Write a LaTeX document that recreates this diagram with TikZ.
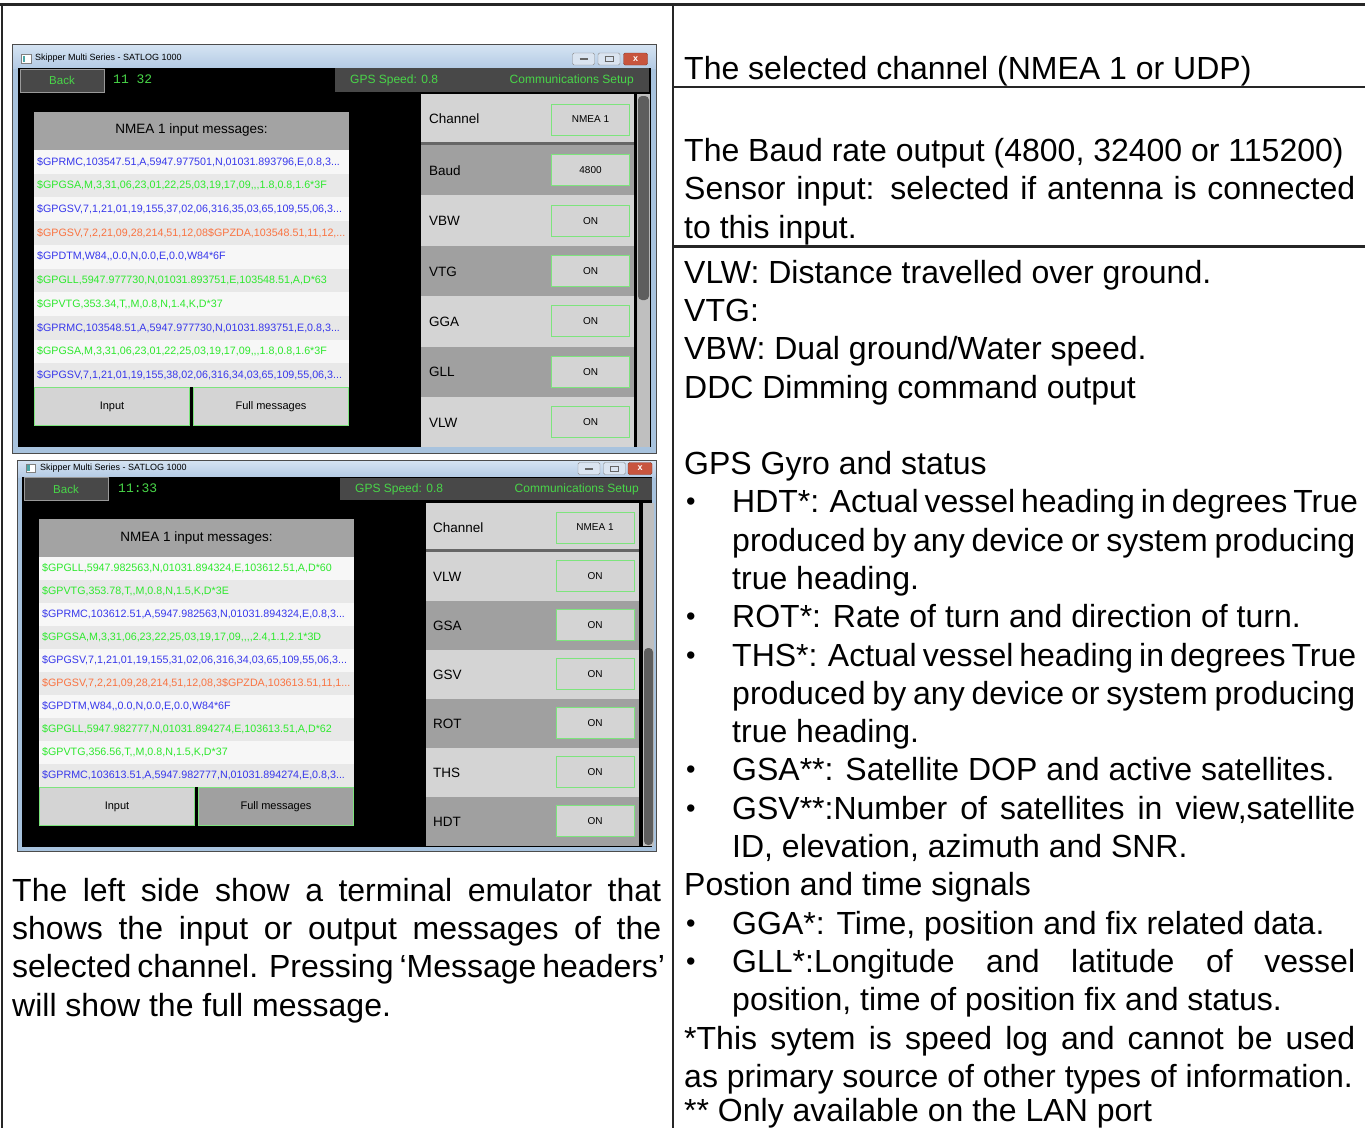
\documentclass[tikz,border=0pt]{standalone}
\usepackage{fontspec}
\setmainfont{Liberation Sans}
\setmonofont{Liberation Mono}
\newfontfamily\msgfont{Liberation Sans}
\definecolor{uigreen}{RGB}{72,214,72}
\definecolor{msgblue}{RGB}{55,55,235}
\definecolor{msggreen}{RGB}{45,232,45}
\definecolor{msgorange}{RGB}{250,115,65}
\definecolor{rowwhite}{RGB}{247,247,247}
\definecolor{rowgrey}{RGB}{232,232,232}
\definecolor{panlight}{RGB}{212,212,212}
\definecolor{pandark}{RGB}{160,160,160}
\definecolor{headgrey}{RGB}{163,163,163}
\definecolor{bargrey}{RGB}{72,72,72}
\definecolor{wintop}{RGB}{214,228,243}
\definecolor{winbot}{RGB}{180,203,228}
\definecolor{winedge}{RGB}{168,195,222}
\definecolor{boxgreen}{RGB}{125,228,125}
\definecolor{closered}{RGB}{200,85,62}
\definecolor{btnfill}{RGB}{218,228,240}
\newcommand{\uifs}[1]{\fontsize{#1}{#1}\selectfont}
\newcommand{\jl}[2]{\makebox[#1][s]{#2}}
\newcommand{\bul}{\raisebox{2pt}{\uifs{27}•}}
\tikzset{
  body/.style    = {anchor=base west, inner sep=0pt, font=\uifs{32}},
  ttl/.style     = {anchor=west, inner sep=0pt, font=\uifs{9}},
  winbtn/.style  = {draw=black!45, fill=btnfill, rounded corners=1.5pt,
                    minimum width=22pt, minimum height=12pt, inner sep=0pt},
  backbtn/.style = {draw=black!40, line width=1pt, fill=bargrey, minimum width=84pt,
                    minimum height=23pt, inner sep=0pt, text=uigreen, font=\uifs{11.5}},
  clock/.style   = {anchor=west, inner sep=0pt, text=uigreen, font=\ttfamily\uifs{13}},
  bartxt/.style  = {inner sep=0pt, text=uigreen, font=\uifs{12}},
  msghead/.style = {fill=headgrey, minimum width=315pt, minimum height=38pt,
                    inner sep=0pt, font=\uifs{13.5}},
  msg/.style     = {anchor=west, inner sep=0pt, font=\msgfont\uifs{10.7}},
  btn/.style     = {draw=boxgreen, line width=1pt, fill=panlight, minimum width=155pt,
                    minimum height=38pt, inner sep=0pt, font=\uifs{11}},
  plabel/.style  = {anchor=west, inner sep=0pt, font=\uifs{13.5}},
  pval/.style    = {draw=boxgreen, line width=1pt, fill=panlight, minimum width=78pt,
                    minimum height=31pt, inner sep=0pt, font=\uifs{10}},
}
\begin{document}
\begin{tikzpicture}[x=1pt,y=-1pt]
\useasboundingbox (0,0) rectangle (1365,1128);
\fill[white] (0,0) rectangle (1365,1128);
% table rules
\draw[line width=3pt, black!85] (0,4) -- (1365,4);
\draw[line width=2.5pt, black!85] (2,4) -- (2,1128);
\draw[line width=2pt, black!85] (673,4) -- (673,1128);
\draw[line width=2.5pt, black!85] (673,87) -- (1365,87);
\draw[line width=2.5pt, black!85] (673,246.5) -- (1365,246.5);

% first screen: channel NMEA 1, baud and first sentences
\fill[winedge] (12,44) rectangle (656,453);
\shade[top color=wintop, bottom color=winbot] (12,44) rectangle (656,68);
\draw[black!70] (12,44) rectangle (656,453);
\fill[black] (18,68) rectangle (651,447);
\draw[black!50, fill=white] (21,54) rectangle (31,63);
\fill[teal!70] (22.5,55.5) rectangle (25,61.5);
\node[ttl] (title1) at (35,58.5) {Skipper Multi Series - SATLOG 1000};
\node[winbtn] (min1) at (583.5,59) {\textcolor{black!60}{\rule[-2pt]{8pt}{2pt}}};
\node[winbtn] (max1) at (609,59) {\textcolor{black!60}{\setlength\fboxsep{0pt}\setlength\fboxrule{1pt}\fbox{\rule{7pt}{0pt}\rule{0pt}{4pt}}}};
\node[winbtn, fill=closered, draw=closered!70!black, minimum width=24pt] (cls1) at (635.5,59) {\textcolor{white}{\bfseries\uifs{9}x}};
\node[backbtn] (back1) at (62,80.5) {Back};
\node[clock] (clock1) at (113,79.5) {11 32};
\fill[bargrey] (335,68) rectangle (649,92);
\node[bartxt, anchor=west] (gps1) at (350,80.5) {GPS Speed: 0.8};
\node[bartxt, anchor=east] (comm1) at (634,80.5) {Communications Setup};
\node[msghead] (head1) at (191.5,130.5) {NMEA 1 input messages:};
\foreach \i in {0,2,4,6,8} \fill[rowwhite] (34,150+\i*23.7) rectangle +(315,23.7);
\foreach \i in {1,3,5,7,9} \fill[rowgrey] (34,150+\i*23.7) rectangle +(315,23.7);
\begin{scope}
\clip (34,150) rectangle (347,387);
\foreach \txt/\col [count=\i from 0] in {
  {\$GPRMC,103547.51,A,5947.977501,N,01031.893796,E,0.8,3...}/msgblue,
  {\$GPGSA,M,3,31,06,23,01,22,25,03,19,17,09,,,1.8,0.8,1.6*3F}/msggreen,
  {\$GPGSV,7,1,21,01,19,155,37,02,06,316,35,03,65,109,55,06,3...}/msgblue,
  {\$GPGSV,7,2,21,09,28,214,51,12,08\$GPZDA,103548.51,11,12,...}/msgorange,
  {\$GPDTM,W84,,0.0,N,0.0,E,0.0,W84*6F}/msgblue,
  {\$GPGLL,5947.977730,N,01031.893751,E,103548.51,A,D*63}/msggreen,
  {\$GPVTG,353.34,T,,M,0.8,N,1.4,K,D*37}/msggreen,
  {\$GPRMC,103548.51,A,5947.977730,N,01031.893751,E,0.8,3...}/msgblue,
  {\$GPGSA,M,3,31,06,23,01,22,25,03,19,17,09,,,1.8,0.8,1.6*3F}/msggreen,
  {\$GPGSV,7,1,21,01,19,155,38,02,06,316,34,03,65,109,55,06,3...}/msgblue}
  \node[msg, text=\col] (msgA\i) at (37,161.85+\i*23.7) {\txt};
\end{scope}
\node[btn] (inp1) at (112,406.5) {Input};
\node[btn] (full1) at (271,406.5) {Full messages};
\fill[panlight] (421,94) rectangle (634,142);
\fill[black!60] (421,142) rectangle (634,145);
\node[plabel] (chan1) at (429,119) {Channel};
\node[pval] (chanv1) at (590.5,119.5) {NMEA 1};
\foreach \lab/\val/\bg [count=\i from 0] in {Baud/4800/pandark, VBW/ON/panlight, VTG/ON/pandark,
                                            GGA/ON/panlight, GLL/ON/pandark, VLW/ON/panlight}{
  \fill[\bg] (421,145+\i*50.4) rectangle +(213,50.4);
  \node[plabel] (labA\i) at (429,170.6+\i*50.4) {\lab};
  \node[pval] (valA\i) at (590.5,170.2+\i*50.4) {\val};
}
\fill[black!25] (637,94) rectangle (650,447);
\fill[black!63, rounded corners=4pt] (638,96) rectangle (649,300);

% second screen: gyro sentences
\fill[winedge] (17,460) rectangle (656,851);
\shade[top color=wintop, bottom color=winbot] (17,460) rectangle (656,477);
\draw[black!70] (17,460) rectangle (656,851);
\fill[black] (22,477) rectangle (652,847);
\draw[black!50, fill=white] (26,464) rectangle (35,472);
\fill[teal!70] (27.3,465.3) rectangle (29.5,470.7);
\node[ttl] (title2) at (40,468.5) {Skipper Multi Series - SATLOG 1000};
\node[winbtn] (min2) at (589,468.5) {\textcolor{black!60}{\rule[-2pt]{8pt}{2pt}}};
\node[winbtn] (max2) at (614.5,468.5) {\textcolor{black!60}{\setlength\fboxsep{0pt}\setlength\fboxrule{1pt}\fbox{\rule{7pt}{0pt}\rule{0pt}{4pt}}}};
\node[winbtn, fill=closered, draw=closered!70!black, minimum width=24pt] (cls2) at (640,468.5) {\textcolor{white}{\bfseries\uifs{9}x}};
\node[backbtn] (back2) at (66,489) {Back};
\node[clock] (clock2) at (118,488.5) {11:33};
\fill[bargrey] (340,478) rectangle (652,500);
\node[bartxt, anchor=west] (gps2) at (355,489.5) {GPS Speed: 0.8};
\node[bartxt, anchor=east] (comm2) at (639,489.5) {Communications Setup};
\node[msghead] (head2) at (196.5,538) {NMEA 1 input messages:};
\foreach \i in {0,2,4,6,8} \fill[rowwhite] (39,557+\i*23) rectangle +(315,23);
\foreach \i in {1,3,5,7,9} \fill[rowgrey] (39,557+\i*23) rectangle +(315,23);
\begin{scope}
\clip (39,557) rectangle (352,787);
\foreach \txt/\col [count=\i from 0] in {
  {\$GPGLL,5947.982563,N,01031.894324,E,103612.51,A,D*60}/msggreen,
  {\$GPVTG,353.78,T,,M,0.8,N,1.5,K,D*3E}/msggreen,
  {\$GPRMC,103612.51,A,5947.982563,N,01031.894324,E,0.8,3...}/msgblue,
  {\$GPGSA,M,3,31,06,23,22,25,03,19,17,09,,,,2.4,1.1,2.1*3D}/msggreen,
  {\$GPGSV,7,1,21,01,19,155,31,02,06,316,34,03,65,109,55,06,3...}/msgblue,
  {\$GPGSV,7,2,21,09,28,214,51,12,08,3\$GPZDA,103613.51,11,1...}/msgorange,
  {\$GPDTM,W84,,0.0,N,0.0,E,0.0,W84*6F}/msgblue,
  {\$GPGLL,5947.982777,N,01031.894274,E,103613.51,A,D*62}/msggreen,
  {\$GPVTG,356.56,T,,M,0.8,N,1.5,K,D*37}/msggreen,
  {\$GPRMC,103613.51,A,5947.982777,N,01031.894274,E,0.8,3...}/msgblue}
  \node[msg, text=\col] (msgB\i) at (42,568.5+\i*23) {\txt};
\end{scope}
\node[btn] (inp2) at (117,806.5) {Input};
\node[btn, fill=pandark] (full2) at (276,806.5) {Full messages};
\fill[panlight] (426,503) rectangle (639,549);
\fill[black!60] (426,549) rectangle (639,552);
\node[plabel] (chan2) at (433,528) {Channel};
\node[pval] (chanv2) at (595,527.5) {NMEA 1};
\foreach \lab/\bg [count=\i from 0] in {VLW/panlight, GSA/pandark, GSV/panlight,
                                       ROT/pandark, THS/panlight, HDT/pandark}{
  \fill[\bg] (426,552+\i*49) rectangle +(213,49);
  \node[plabel] (labB\i) at (433,577+\i*49) {\lab};
  \node[pval] (valB\i) at (595,576+\i*49) {ON};
}
\fill[black!25] (643,503) rectangle (654,846);
\fill[black!63, rounded corners=4pt] (644,648) rectangle (653,845);

% left text under the screens
\node[body] (l1) at (12,901) {\jl{649pt}{The left side show a terminal emulator that}};
\node[body] (l2) at (12,939.4) {\jl{649pt}{shows the input or output messages of the}};
\node[body] (l3) at (12,977.8) {\jl{649pt}{selected channel. Pressing ‘Message headers’}};
\node[body] (l4) at (12,1016.2) {will show the full message.};

% right column text
\node[body] (r1) at (684,79) {The selected channel (NMEA 1 or UDP)};
\node[body] (r2) at (684,161) {The Baud rate output (4800, 32400 or 115200)};
\node[body] (r3) at (684,199.5) {\jl{671pt}{Sensor input: selected if antenna is connected}};
\node[body] (r4) at (684,238) {to this input.};
\node[body] (r5) at (684,283) {VLW: Distance travelled over ground.};
\node[body] (r6) at (684,321.4) {VTG:};
\node[body] (r7) at (684,359.7) {VBW: Dual ground/Water speed.};
\node[body] (r8) at (684,398) {DDC Dimming command output};
\node[body] (r9) at (684,474.5) {GPS Gyro and status};
\node[body] (b1) at (686,512.8) {\bul};
\node[body] (r10) at (732,512.8) {\jl{623pt}{HDT*: Actual vessel heading in degrees True}};
\node[body] (r11) at (732,551.1) {\jl{623pt}{produced by any device or system producing}};
\node[body] (r12) at (732,589.4) {true heading.};
\node[body] (b2) at (686,627.7) {\bul};
\node[body] (r13) at (732,627.7) {ROT*: Rate of turn and direction of turn.};
\node[body] (b3) at (686,666) {\bul};
\node[body] (r14) at (732,666) {\jl{623pt}{THS*: Actual vessel heading in degrees True}};
\node[body] (r15) at (732,704.3) {\jl{623pt}{produced by any device or system producing}};
\node[body] (r16) at (732,742.6) {true heading.};
\node[body] (b4) at (686,780.9) {\bul};
\node[body] (r17) at (732,780.9) {GSA**: Satellite DOP and active satellites.};
\node[body] (b5) at (686,819.2) {\bul};
\node[body] (r18) at (732,819.2) {\jl{623pt}{GSV**:Number of satellites in view,satellite}};
\node[body] (r19) at (732,857.5) {ID, elevation, azimuth and SNR.};
\node[body] (r20) at (684,895.8) {Postion and time signals};
\node[body] (b6) at (686,934.1) {\bul};
\node[body] (r21) at (732,934.1) {GGA*: Time, position and fix related data.};
\node[body] (b7) at (686,972.4) {\bul};
\node[body] (r22) at (732,972.4) {\jl{623pt}{GLL*:Longitude and latitude of vessel}};
\node[body] (r23) at (732,1010.7) {position, time of position fix and status.};
\node[body] (r24) at (684,1049) {\jl{671pt}{*This sytem is speed log and cannot be used}};
\node[body] (r25) at (684,1087.3) {as primary source of other types of information.};
\node[body] (r26) at (684,1121.5) {** Only available on the LAN port};
\end{tikzpicture}
\end{document}
